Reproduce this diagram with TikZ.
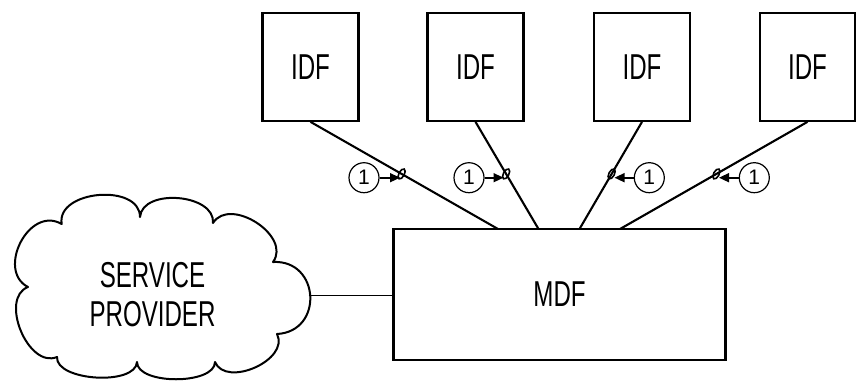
\documentclass[tikz,border=0pt]{standalone}
\usepackage{fontspec}
\setmainfont[FakeStretch=0.67]{Liberation Sans}
\newfontfamily\digitfont{Liberation Sans}
\usetikzlibrary{arrows.meta,calc,shapes.geometric}
\begin{document}
\begin{tikzpicture}[x=1pt,y=-1pt,
  box/.style={draw,line width=2.3pt,inner sep=0pt,font=\fontsize{36}{39}\selectfont},
  idfbox/.style={box,minimum width=96pt,minimum height=108pt},
  cable/.style={line width=2.1pt},
  cloudline/.style={line width=2pt,line join=round},
  numcirc/.style={draw,circle,line width=1.2pt,minimum size=30pt,inner sep=0pt,font=\digitfont\fontsize{21}{21}\selectfont},
  tick/.style={draw,ellipse,line width=1.6pt,minimum width=11pt,minimum height=5.5pt,inner sep=0pt,rotate=62},
  callout/.style={line width=1.6pt,-{Triangle[length=10pt,width=9pt]}},
  lbl/.style={font=\fontsize{36}{39}\selectfont,align=center,inner sep=0pt}
]
\useasboundingbox (0,0) rectangle (856,381);

% IDF boxes
\node[idfbox] (i1) at (310.5,66.7) {IDF};
\node[idfbox] (i2) at (475.5,66.7) {IDF};
\node[idfbox] (i3) at (642,66.7) {IDF};
\node[idfbox,minimum width=95pt] (i4) at (807.5,66.7) {IDF};

% MDF box
\node[box,minimum width=332pt,minimum height=131pt] (mdf) at (559.6,294.5) {MDF};

% cable end points on MDF
\coordinate (p1) at (498,229);
\coordinate (p2) at (538.5,229);
\coordinate (p3) at (579.5,229);
\coordinate (p4) at (620,229);

\draw[cable] (i1.south) -- (p1);
\draw[cable] (i2.south) -- (p2);
\draw[cable] (i3.south) -- (p3);
\draw[cable] (i4.south) -- (p4);

% tick marks on cables
\foreach \k in {1,2,3,4}{
  \coordinate (e\k) at ($(i\k.south)!0.486!(p\k)$);
  \node[tick] (t\k) at (e\k) {};
}

% numbered callouts
\node[numcirc] (c1) at (364,177.7) {1};
\node[numcirc] (c2) at (469,177.7) {1};
\node[numcirc] (c3) at (649.3,177.7) {1};
\node[numcirc] (c4) at (754.3,177.7) {1};
\coordinate (a1) at (400,177.7);
\coordinate (a2) at (503.5,177.7);
\coordinate (a3) at (614.5,177.7);
\coordinate (a4) at (719,177.7);
\draw[callout] (c1) -- (a1);
\draw[callout] (c2) -- (a2);
\draw[callout] (c3) -- (a3);
\draw[callout] (c4) -- (a4);

% cloud
\draw[cloudline] (61.7,224) .. controls (56,190) and (140,183) .. (140,217)
 .. controls (142.4,187.8) and (215.4,193.8) .. (213,223)
 .. controls (230,196) and (292,236) .. (273,262)
 .. controls (320,259.5) and (324,331.5) .. (277,334)
 .. controls (290,360) and (226,388) .. (215,362)
 .. controls (215,385) and (137,385) .. (137,362)
 .. controls (135.6,386) and (55.6,381) .. (57,357)
 .. controls (28,369) and (-1,298.2) .. (28,287)
 .. controls (-4,270.6) and (29,205) .. (61.7,224) -- cycle;
\node[lbl] (sp) at (152.5,294.4) {SERVICE\\PROVIDER};
\coordinate (cr) at (308.5,295.5);
\draw[cable,line width=1.8pt] (cr) -- (cr -| mdf.west);
\end{tikzpicture}
\end{document}
